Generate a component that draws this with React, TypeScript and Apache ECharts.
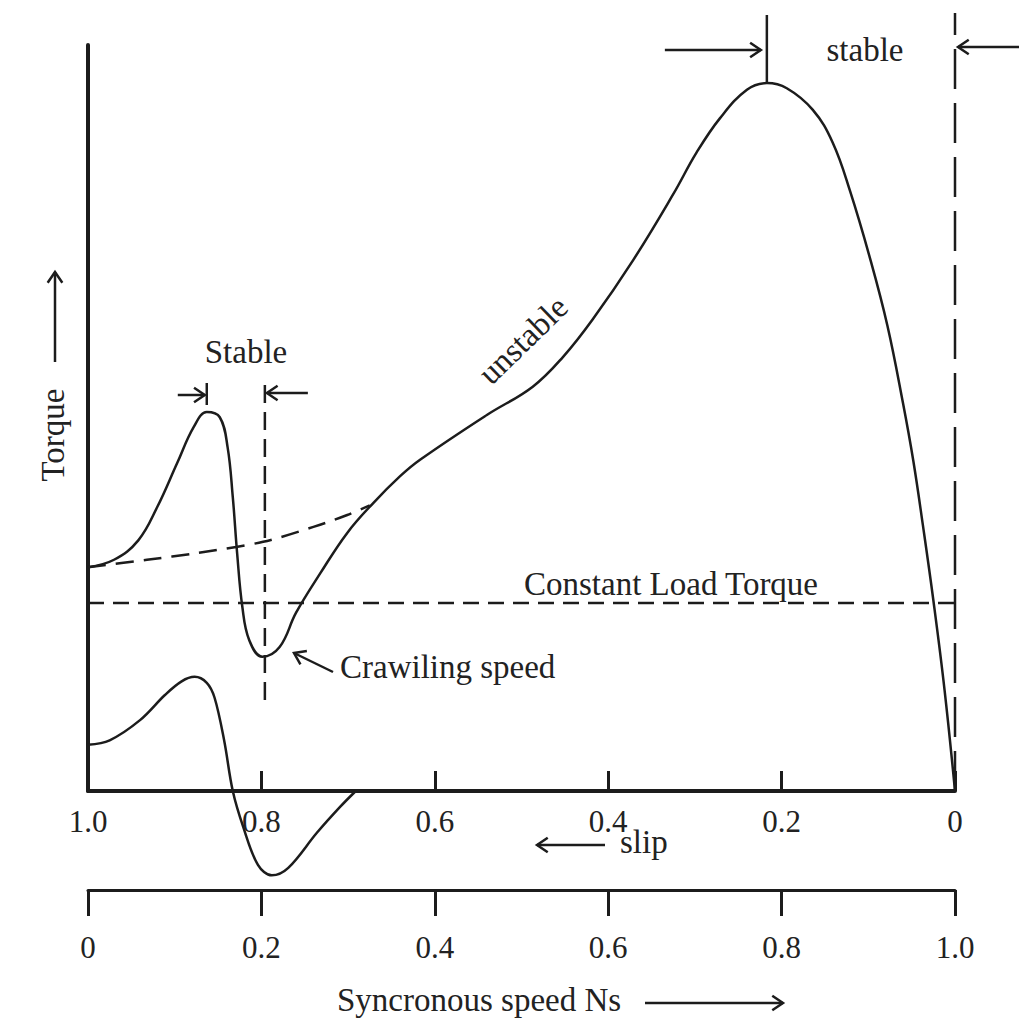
import React, { useEffect, useRef } from "react";
import * as echarts from "echarts";

// Slip values (1.0 at standstill -> 0 at synchronous speed) and torque readings
const slipMain = [1.0, 0.97, 0.942, 0.92, 0.897, 0.878, 0.863, 0.848, 0.839, 0.833, 0.828, 0.822, 0.814, 0.799, 0.779, 0.76, 0.732, 0.701, 0.671, 0.64, 0.617, 0.54, 0.487, 0.452, 0.418, 0.371, 0.325, 0.298, 0.271, 0.24, 0.217, 0.194, 0.164, 0.141, 0.121, 0.098, 0.078, 0.06, 0.048, 0.037, 0.025, 0.012, 0.0];
const torqueMain = [30.0, 31.0, 33.6, 38.1, 44.0, 48.8, 50.8, 50.1, 46.1, 39.4, 31.9, 24.7, 20.2, 18.0, 19.3, 23.9, 29.2, 34.6, 38.6, 42.2, 44.4, 50.4, 54.2, 58.2, 63.2, 71.2, 80.0, 85.6, 90.2, 94.0, 94.9, 94.2, 91.3, 86.9, 80.4, 71.4, 62.4, 52.0, 44.2, 35.6, 25.6, 13.5, 0];

const slipFund = [1.0, 0.932, 0.874, 0.798, 0.74, 0.701, 0.675];
const torqueFund = [30.0, 31.0, 31.9, 33.4, 35.4, 37.0, 38.3];

const slipHarm = [1.0, 0.975, 0.94, 0.911, 0.892, 0.877, 0.863, 0.854, 0.843, 0.833, 0.821, 0.804, 0.788, 0.769, 0.736, 0.709, 0.692];
const torqueHarm = [6.2, 6.8, 9.5, 12.9, 14.7, 15.3, 14.5, 12.5, 6.8, 0, -4.8, -9.9, -11.3, -10.3, -5.6, -2.1, -0.1];

const loadTorque = 25.2;
const crawlSlip = 0.796;
const crawlRange = [12.2, 54.7];
const syncRange = [0, 104.3];

const INK = "#1c1c1c";
const FONT = '"Liberation Serif", "DejaVu Serif", serif';

const zip = (a: number[], b: number[]) => a.map((v, i) => [v, b[i]]);

const fmt = (v: number) => {
  if (Math.abs(v - 1) < 1e-9) return "1.0";
  if (Math.abs(v) < 1e-9) return "0";
  return v.toFixed(1);
};

export default function App() {
  const ref = useRef<HTMLDivElement>(null);
  useEffect(() => {
    document.body.style.margin = "0";
    if (!ref.current) return;
    const chart = echarts.init(ref.current, undefined, { renderer: "svg" });
    const lineSeries = (data: number[][], dash: any, width: number, smooth: number | boolean) => ({
      type: "line",
      data,
      smooth,
      symbol: "none",
      clip: false,
      silent: true,
      xAxisIndex: 0,
      yAxisIndex: 0,
      lineStyle: { color: INK, width, type: dash },
    });
    chart.setOption({
      animation: false,
      backgroundColor: "#ffffff",
      grid: { left: 88, right: 64, top: 45, bottom: 232, containLabel: false, outerBoundsMode: "none" },
      xAxis: [
        {
          type: "value",
          inverse: true,
          min: 0,
          max: 1,
          interval: 0.2,
          position: "bottom",
          axisLine: { show: true, onZero: false, lineStyle: { color: INK, width: 4 } },
          axisTick: { show: true, inside: true, length: 20, lineStyle: { color: INK, width: 3 } },
          axisLabel: { show: true, margin: 15, formatter: fmt, fontFamily: FONT, fontSize: 31, color: "#222", showMinLabel: true, showMaxLabel: true },
          splitLine: { show: false },
        },
        {
          type: "value",
          min: 0,
          max: 1,
          interval: 0.2,
          position: "bottom",
          offset: 99,
          axisLine: { show: true, onZero: false, lineStyle: { color: INK, width: 3 } },
          axisTick: { show: true, inside: false, length: 26, lineStyle: { color: INK, width: 3 } },
          axisLabel: { show: true, margin: 42, formatter: fmt, fontFamily: FONT, fontSize: 31, color: "#222", showMinLabel: true, showMaxLabel: true },
          splitLine: { show: false },
        },
      ],
      yAxis: {
        type: "value",
        min: 0,
        max: 100,
        axisLine: { show: true, onZero: false, lineStyle: { color: INK, width: 4 } },
        axisTick: { show: false },
        axisLabel: { show: false },
        splitLine: { show: false },
      },
      series: [
        lineSeries(zip(slipMain, torqueMain), "solid", 2.5, 0.4),
        lineSeries(zip(slipFund, torqueFund), [18, 10], 2.5, 0.3),
        lineSeries(zip(slipHarm, torqueHarm), "solid", 2.5, 0.35),
        lineSeries([[1, loadTorque], [0, loadTorque]], [16, 9], 2.5, false),
        lineSeries([[crawlSlip, crawlRange[0]], [crawlSlip, crawlRange[1]]], [18, 9], 2.5, false),
        lineSeries([[0, syncRange[0]], [0, syncRange[1]]], [40, 14], 2.5, false),
      ],
    });

    const P = (s: number, t: number) => chart.convertToPixel({ xAxisIndex: 0, yAxisIndex: 0 }, [s, t]) as number[];
    const arrow = (x1: number, y1: number, x2: number, y2: number, w = 2.5) => {
      const a = Math.atan2(y2 - y1, x2 - x1);
      const L = 13;
      const sp = 0.6;
      return {
        type: "group",
        silent: true,
        children: [
          { type: "line", shape: { x1, y1, x2, y2 }, style: { stroke: INK, lineWidth: w } },
          {
            type: "polyline",
            shape: {
              points: [
                [x2 - L * Math.cos(a - sp), y2 - L * Math.sin(a - sp)],
                [x2, y2],
                [x2 - L * Math.cos(a + sp), y2 - L * Math.sin(a + sp)],
              ],
            },
            style: { stroke: INK, lineWidth: w, fill: "none" },
          },
        ],
      };
    };
    const seg = (x1: number, y1: number, x2: number, y2: number, w = 2.5) => ({
      type: "line",
      silent: true,
      shape: { x1, y1, x2, y2 },
      style: { stroke: INK, lineWidth: w },
    });
    const text = (t: string, x: number, y: number, size = 33, align = "center", rotation = 0) => ({
      type: "text",
      silent: true,
      x,
      y,
      rotation,
      style: {
        text: t,
        fontFamily: FONT,
        fontSize: size,
        fill: "#222",
        align,
        verticalAlign: "middle",
      },
    });

    const peak = P(0.217, 95);
    const sync = P(0, 0);
    const crawl = P(crawlSlip, 0);
    const stableLeft = P(0.863, 0);

    chart.setOption({
      graphic: [
        // top: stable region arrows
        seg(peak[0], 15, peak[0], peak[1]),
        arrow(peak[0] - 102, 50, peak[0] - 6, 50),
        text("stable", sync[0] - 90, 50),
        arrow(sync[0] + 66, 47, sync[0] + 3, 47),
        // crawling stable region arrows
        seg(stableLeft[0], 383, stableLeft[0], 405),
        arrow(stableLeft[0] - 29, 395, stableLeft[0] - 2, 395),
        arrow(crawl[0] + 43, 393, crawl[0] + 2, 393),
        text("Stable", 246, 352),
        // crawling speed
        arrow(333, 672, 294, 653),
        text("Crawiling speed", 340, 667, 33, "left"),
        // constant load torque label
        text("Constant Load Torque", 671, 584),
        // unstable label
        text("unstable", 523, 340, 33, "center", 0.77),
        // slip arrow
        arrow(605, 845, 537, 845),
        text("slip", 620, 842, 33, "left"),
        // bottom title
        text("Syncronous speed Ns", 337, 1000, 33, "left"),
        arrow(645, 1003, 783, 1003),
        // y-axis title
        text("Torque", 53, 435, 33, "center", Math.PI / 2),
        arrow(55, 362, 55, 272),
      ],
    });

    return () => chart.dispose();
  }, []);
  return <div ref={ref} style={{ width: 1019, height: 1023 }} />;
}
